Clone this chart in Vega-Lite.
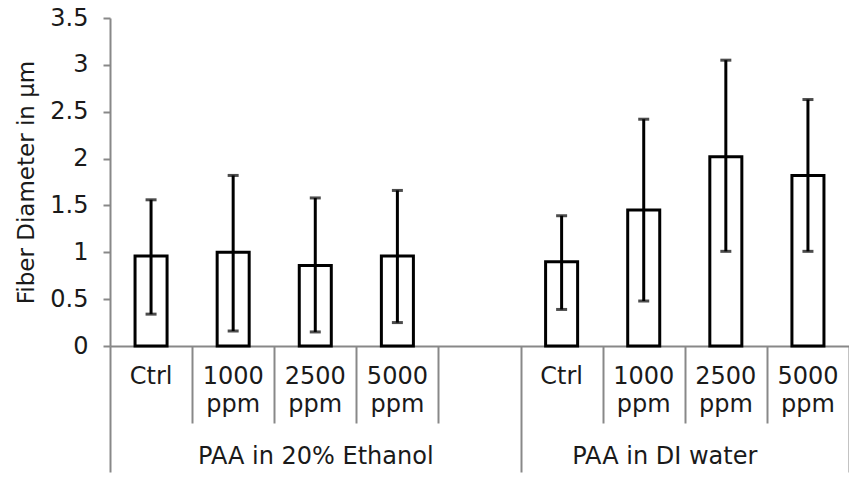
{
  "$schema": "https://vega.github.io/schema/vega-lite/v6.json",
  "width": 739,
  "height": 328,
  "autosize": {"type": "none"},
  "padding": {"left": 110, "top": 18, "right": 0, "bottom": 131},
  "config": {
    "view": {"stroke": null},
    "font": "DejaVu Sans",
    "axis": {"labelFont": "DejaVu Sans", "titleFont": "DejaVu Sans", "labelFontSize": 24, "titleFontSize": 23, "labelColor": "#1a1a1a", "titleColor": "#1a1a1a", "titleFontWeight": "normal", "domainColor": "#888888", "tickColor": "#888888", "domainWidth": 2, "tickWidth": 2, "grid": false, "labelLimit": 0}
  },
  "layer": [
    {
      "data": {
        "values": [
          {"slot": "E-Ctrl", "mean": 0.96, "lo": 0.34, "hi": 1.56},
          {"slot": "E-1000", "mean": 1.00, "lo": 0.16, "hi": 1.82},
          {"slot": "E-2500", "mean": 0.86, "lo": 0.15, "hi": 1.58},
          {"slot": "E-5000", "mean": 0.96, "lo": 0.25, "hi": 1.66},
          {"slot": "W-Ctrl", "mean": 0.90, "lo": 0.39, "hi": 1.39},
          {"slot": "W-1000", "mean": 1.45, "lo": 0.48, "hi": 2.42},
          {"slot": "W-2500", "mean": 2.02, "lo": 1.01, "hi": 3.05},
          {"slot": "W-5000", "mean": 1.82, "lo": 1.01, "hi": 2.63}
        ]
      },
      "encoding": {
        "x": {
          "field": "slot", "type": "nominal",
          "scale": {"domain": ["E-Ctrl", "E-1000", "E-2500", "E-5000", "E-gap", "W-Ctrl", "W-1000", "W-2500", "W-5000"], "paddingInner": 0, "paddingOuter": 0},
          "axis": {
            "orient": "bottom", "title": null, "ticks": false, "labelAngle": 0,
            "labelBaseline": "top", "labelPadding": 18, "labelLineHeight": 28,
            "labelExpr": "datum.value == 'E-gap' ? '' : (indexof(datum.value, 'Ctrl') >= 0 ? 'Ctrl' : [slice(datum.value, 2), 'ppm'])"
          }
        }
      },
      "layer": [
        {
          "mark": {"type": "bar", "fill": "white", "stroke": "black", "strokeWidth": 3, "width": {"band": 0.39}},
          "encoding": {
            "y": {
              "field": "mean", "type": "quantitative",
              "scale": {"domain": [0, 3.5], "nice": false},
              "axis": {"title": "Fiber Diameter in µm", "values": [0, 0.5, 1, 1.5, 2, 2.5, 3, 3.5], "format": "~g", "tickSize": 7, "labelPadding": 15, "titlePadding": 11}
            }
          }
        },
        {
          "mark": {"type": "rule", "color": "black", "strokeWidth": 3},
          "encoding": {"y": {"field": "lo", "type": "quantitative"}, "y2": {"field": "hi"}}
        },
        {
          "mark": {"type": "tick", "color": "black", "thickness": 3, "size": 11},
          "encoding": {"y": {"field": "lo", "type": "quantitative"}}
        },
        {
          "mark": {"type": "tick", "color": "black", "thickness": 3, "size": 11},
          "encoding": {"y": {"field": "hi", "type": "quantitative"}}
        }
      ]
    },
    {
      "data": {"values": [{"p": 0}, {"p": 9}]},
      "mark": {"type": "point", "opacity": 0, "size": 0},
      "encoding": {
        "x": {
          "field": "p", "type": "quantitative",
          "scale": {"domain": [0, 9], "nice": false, "zero": false},
          "axis": {
            "orient": "bottom", "title": null, "domain": false, "labels": false,
            "values": [0, 1, 2, 3, 4, 5, 6, 7, 8, 9],
            "tickSize": {"condition": {"test": "datum.value == 0 || datum.value == 5 || datum.value == 9", "value": 126}, "value": 77}
          }
        }
      }
    },
    {
      "data": {"values": [{"g": "PAA in 20% Ethanol", "c": 2.5}, {"g": "PAA in DI water", "c": 6.75}]},
      "mark": {"type": "point", "opacity": 0, "size": 0},
      "encoding": {
        "x": {
          "field": "c", "type": "quantitative",
          "scale": {"domain": [0, 9], "nice": false, "zero": false},
          "axis": {
            "orient": "bottom", "title": null, "domain": false, "ticks": false,
            "values": [2.5, 6.75], "labelBaseline": "top", "labelPadding": 98,
            "labelExpr": "datum.value == 2.5 ? 'PAA in 20% Ethanol' : 'PAA in DI water'"
          }
        }
      }
    }
  ],
  "resolve": {"scale": {"x": "independent"}, "axis": {"x": "independent"}}
}
